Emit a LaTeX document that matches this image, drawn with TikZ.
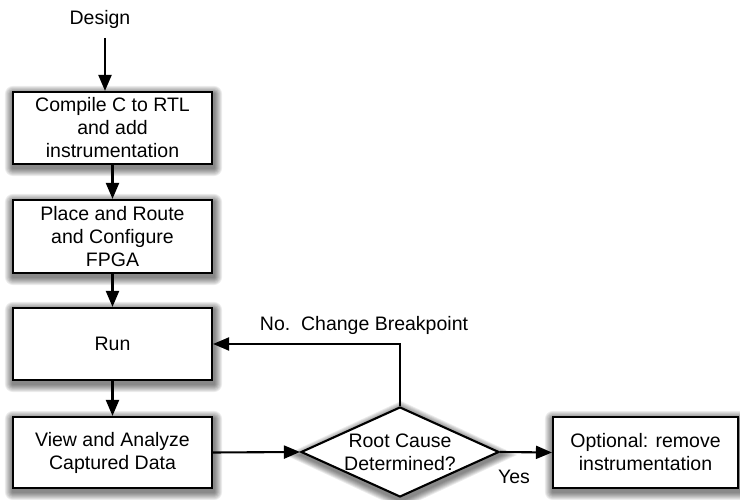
\documentclass[tikz,border=0pt]{standalone}
\usepackage{fontspec}
\setmainfont{Liberation Sans}
\usetikzlibrary{shapes.geometric,arrows.meta,calc}

\pgfdeclarelayer{background}
\pgfsetlayers{background,main}

\tikzset{
  txt/.style={font=\fontsize{19.5}{23}\selectfont, align=center},
  stepbox/.style={txt, draw=black, line width=2.1pt, fill=white, inner sep=0pt},
  decide/.style={diamond, draw=black, line width=2.1pt, fill=white, inner sep=0pt},
  flow/.style={line width=2.1pt, -{Triangle[length=16pt,width=13pt]}},
  shadowlayer/.style={fill=black, opacity=0.075, draw=none},
}

% soft shadow below a rectangular node, built from stacked translucent layers
\newcommand\boxshadow[1]{%
  \begin{pgfonlayer}{background}
    \foreach \r in {1,...,8}{
      \fill[shadowlayer, rounded corners=\r pt]
        ($(#1.south west)+(1-\r,-3-\r)$) rectangle ($(#1.north east)+(1+\r,-3+\r)$);
    }
  \end{pgfonlayer}}

% the same for a diamond node
\newcommand\diamondshadow[1]{%
  \begin{pgfonlayer}{background}
    \foreach \r in {1,...,8}{
      \fill[shadowlayer]
        ($(#1.north)+(1,-3+\r)$) -- ($(#1.east)+(1+2*\r,-3)$) --
        ($(#1.south)+(1,-3-\r)$) -- ($(#1.west)+(1-2*\r,-3)$) -- cycle;
    }
  \end{pgfonlayer}}

\begin{document}
\begin{tikzpicture}[x=1pt,y=1pt]
  \useasboundingbox (0,0) rectangle (740,500);

  % process steps
  \node[txt] (design) at (100,481) {Design};
  \coordinate (start) at (105,462);

  \node[stepbox, minimum width=199pt, minimum height=72pt] (compile) at (112.5,372)
    {Compile C to RTL\\and add\\instrumentation};
  \node[stepbox, minimum width=199pt, minimum height=73pt] (pnr) at (112.5,263.5)
    {Place and Route\\and Configure\\FPGA};
  \node[stepbox, minimum width=199pt, minimum height=72pt] (run) at (112.5,156)
    {Run};
  \node[stepbox, minimum width=199pt, minimum height=71pt] (view) at (112.5,47.5)
    {View and Analyze\\Captured Data};

  % decision
  \node[decide, minimum width=198pt, minimum height=90pt] (root) at (400,48) {};
  \node[txt] at (root.center) {Root Cause\\Determined?};

  \node[stepbox, minimum width=185pt, minimum height=71pt] (remove) at (645.5,47.5)
    {Optional: remove\\instrumentation};

  \boxshadow{compile}
  \boxshadow{pnr}
  \boxshadow{run}
  \boxshadow{view}
  \boxshadow{remove}
  \diamondshadow{root}

  % connectors
  \draw[flow] (start) -- (start |- compile.north);
  \draw[flow] (compile) -- (pnr);
  \draw[flow] (pnr) -- (run);
  \draw[flow] (run) -- (view);
  \draw[flow] (view.east) -- (root.west);
  \draw[flow] (root.east) -- (remove.west);
  \draw[flow] (root.north) |- (run.east);

  % connector labels
  \node[txt] at (364,175) {No.\ \ Change Breakpoint};
  \node[txt] at (514,23) {Yes};
\end{tikzpicture}
\end{document}
